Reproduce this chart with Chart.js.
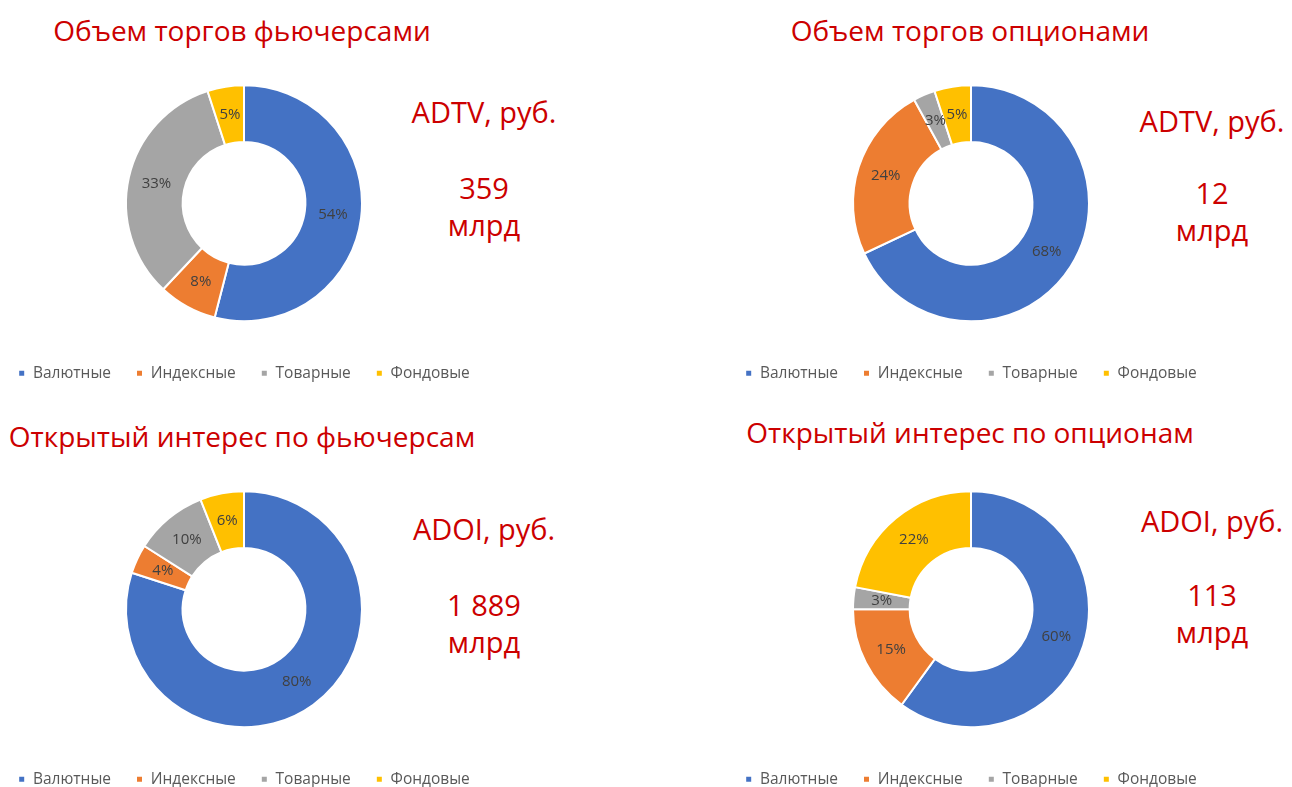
<!DOCTYPE html>
<html>
<head>
	<meta charset="utf-8">
	<title>Срочный рынок</title>
	<script src="https://cdn.jsdelivr.net/npm/chart.js"></script>
	<style>
		body { margin: 0; background: #fff; font-family: "Open Sans", "Noto Sans", sans-serif; }
		#page { position: relative; width: 1292px; height: 787px; overflow: hidden; }
		.title { position: absolute; width: 560px; text-align: center; color: #cc0000; font-size: 28px; white-space: nowrap; }
		.side { position: absolute; width: 200px; text-align: center; color: #cc0000; font-size: 29px; line-height: 37px; white-space: nowrap; }
		.box { position: absolute; width: 530px; height: 325px; }
	</style>
</head>
<body>
<div id="page">
	<div class="title" style="left:-38px; top:11px;">Объем торгов фьючерсами</div>
	<div class="title" style="left:690px; top:11px;">Объем торгов опционами</div>
	<div class="title" style="left:-38px; top:417px;">Открытый интерес по фьючерсам</div>
	<div class="title" style="left:690px; top:413px;">Открытый интерес по опционам</div>

	<div class="side" style="left:384px; top:93px;">ADTV, руб.</div>
	<div class="side" style="left:384px; top:169px;">359<br>млрд</div>
	<div class="side" style="left:1112px; top:102px;">ADTV, руб.</div>
	<div class="side" style="left:1112px; top:174px;">12<br>млрд</div>
	<div class="side" style="left:384px; top:510px;">ADOI, руб.</div>
	<div class="side" style="left:384px; top:586px;">1 889<br>млрд</div>
	<div class="side" style="left:1112px; top:502px;">ADOI, руб.</div>
	<div class="side" style="left:1112px; top:576px;">113<br>млрд</div>

	<div class="box" style="left:-21px; top:66px;"><canvas id="c1"></canvas></div>
	<div class="box" style="left:706px; top:66px;"><canvas id="c2"></canvas></div>
	<div class="box" style="left:-21px; top:472px;"><canvas id="c3"></canvas></div>
	<div class="box" style="left:706px; top:472px;"><canvas id="c4"></canvas></div>
</div>
<script>
// категории и доли, %
const categories = ['Валютные', 'Индексные', 'Товарные', 'Фондовые'];
const colors = ['#4472C4', '#ED7D31', '#A5A5A5', '#FFC000'];

const futuresVolume = [54, 8, 33, 5];
const optionsVolume = [68, 24, 3, 5];
const futuresOI = [80, 4, 10, 6];
const optionsOI = [60, 15, 3, 22];

// подписи процентов в середине кольца
const pctLabels = {
	id: 'pctLabels',
	afterDatasetsDraw(chart) {
		const ctx = chart.ctx;
		const ds = chart.data.datasets[0];
		ctx.save();
		ctx.font = '15px "Open Sans", "Noto Sans", sans-serif';
		ctx.fillStyle = '#404040';
		ctx.textAlign = 'center';
		ctx.textBaseline = 'middle';
		chart.getDatasetMeta(0).data.forEach((arc, i) => {
			const p = arc.tooltipPosition();
			ctx.fillText(ds.data[i] + '%', p.x, p.y);
		});
		ctx.restore();
	}
};

function makeDonut(id, values) {
	new Chart(document.getElementById(id), {
		type: 'doughnut',
		data: {
			labels: categories,
			datasets: [{
				data: values,
				backgroundColor: colors,
				borderColor: '#ffffff',
				borderWidth: 2
			}]
		},
		options: {
			responsive: true,
			maintainAspectRatio: false,
			animation: false,
			radius: 118,
			cutout: '52%',
			layout: { padding: 0 },
			plugins: {
				tooltip: { enabled: false },
				legend: {
					position: 'bottom',
					labels: {
						boxWidth: 7,
						boxHeight: 7,
						padding: 25,
						color: '#595959',
						font: { family: '"Open Sans", "Noto Sans", sans-serif', size: 15.5 }
					}
				}
			}
		},
		plugins: [pctLabels]
	});
}

makeDonut('c1', futuresVolume);
makeDonut('c2', optionsVolume);
makeDonut('c3', futuresOI);
makeDonut('c4', optionsOI);
</script>
</body>
</html>
